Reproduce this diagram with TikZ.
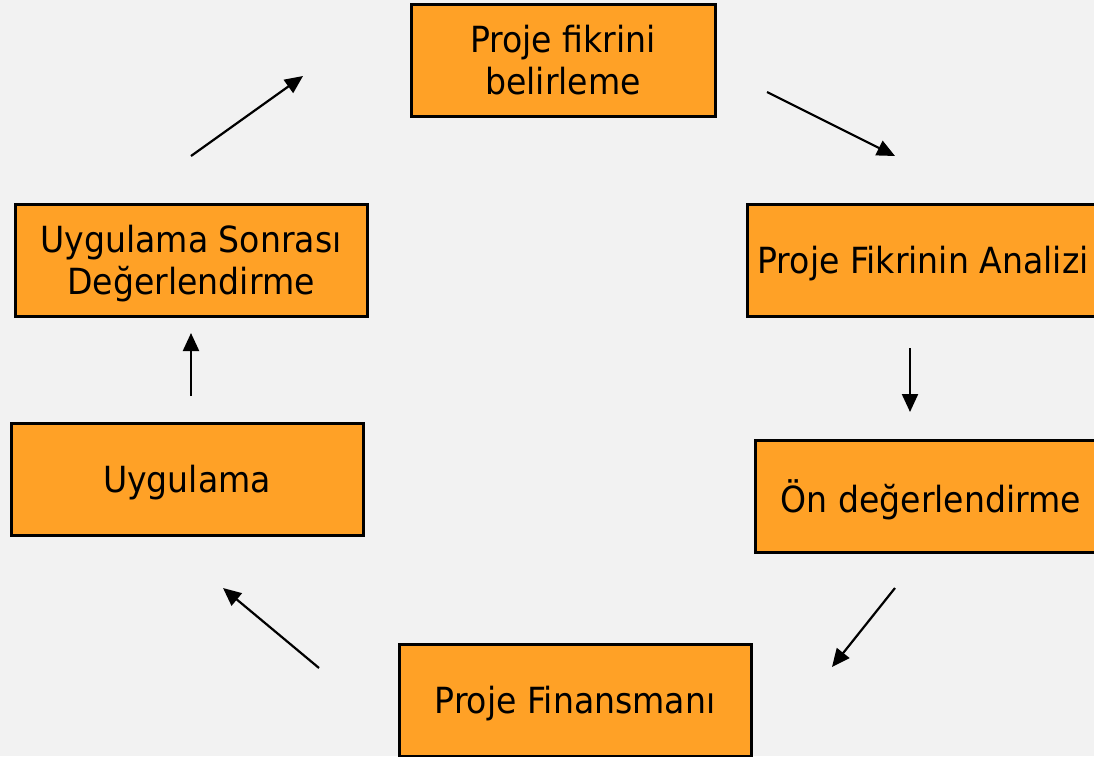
\documentclass[tikz,border=0pt]{standalone}
\usepackage{fontspec}
\setmainfont{DejaVu Sans}[FakeStretch=0.92]
\usetikzlibrary{arrows.meta}
\definecolor{bgc}{HTML}{F2F2F2}
\definecolor{boxc}{HTML}{FFA126}
\tikzset{
  stagebox/.style={draw=black, line width=3pt, fill=boxc, inner sep=0pt,
    minimum height=112pt, align=center, text=black, text depth=0pt,
    font=\fontsize{36}{42}\selectfont},
  flowarrow/.style={draw=black, line width=2.2pt,
    -{Triangle[length=18pt,width=16pt]}}
}
\begin{document}
\begin{tikzpicture}[x=1pt,y=-1pt]
  \fill[bgc] (0,0) rectangle (1094,756);
  \useasboundingbox (0,0) rectangle (1094,756);
  \clip (0,0) rectangle (1094,756);
  % boxes
  \node[stagebox, minimum width=304pt] (b1) at (563,60) {Proje fikrini\\belirleme};
  \node[stagebox, minimum width=352pt] (b2) at (923,260) {Proje Fikrinin Analizi};
  \node[stagebox, minimum width=352pt] (b3) at (931,496) {Ön değerlendirme};
  \node[stagebox, minimum width=352pt] (b4) at (575,700) {Proje Finansmanı};
  \node[stagebox, minimum width=352pt] (b5) at (187,479) {Uygulama};
  \node[stagebox, minimum width=352pt] (b6) at (191,260) {Uygulama Sonrası\\Değerlendirme};
  % arrow end points
  \coordinate (a1s) at (767,92);  \coordinate (a1e) at (895,156);
  \coordinate (a2s) at (910,348); \coordinate (a2e) at (910,412);
  \coordinate (a3s) at (895,588); \coordinate (a3e) at (832,667);
  \coordinate (a4s) at (319,668); \coordinate (a4e) at (223,588);
  \coordinate (a5s) at (191,396); \coordinate (a5e) at (191,333);
  \coordinate (a6s) at (191,156); \coordinate (a6e) at (303,76);
  \draw[flowarrow] (a1s) -- (a1e);
  \draw[flowarrow] (a2s) -- (a2e);
  \draw[flowarrow] (a3s) -- (a3e);
  \draw[flowarrow] (a4s) -- (a4e);
  \draw[flowarrow] (a5s) -- (a5e);
  \draw[flowarrow] (a6s) -- (a6e);
\end{tikzpicture}
\end{document}
